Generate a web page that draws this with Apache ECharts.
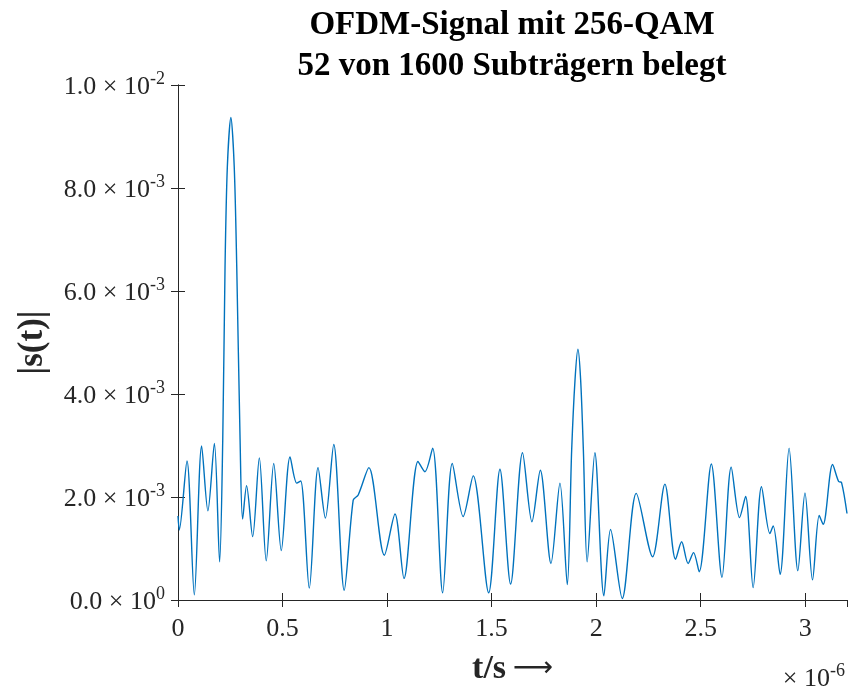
<!DOCTYPE html>
<html>
<head>
<meta charset="utf-8">
<script src="https://cdn.jsdelivr.net/npm/echarts@6/dist/echarts.min.js"></script>
<style>
  html, body { margin: 0; padding: 0; background: #fff; }
  #chart { width: 849px; height: 691px; }
</style>
</head>
<body>
<div id="chart"></div>
<script>
// time in units of 1e-6 s, |s(t)| in units of 1e-3
const tMicro = [
  0, 0.006, 0.043, 0.078, 0.113, 0.143, 0.174, 0.199, 0.214, 0.225, 0.236, 0.253, 0.269, 0.281, 0.297,
  0.309, 0.328, 0.357, 0.389, 0.422, 0.458, 0.494, 0.536, 0.568, 0.587, 0.628, 0.670, 0.705, 0.745,
  0.795, 0.838, 0.862, 0.913, 0.987, 1.038, 1.081, 1.148, 1.181, 1.218, 1.266, 1.312, 1.364, 1.412,
  1.486, 1.540, 1.591, 1.648, 1.693, 1.733, 1.784, 1.827, 1.862, 1.883, 1.899, 1.913, 1.926, 1.939,
  1.957, 1.994, 2.037, 2.069, 2.125, 2.192, 2.270, 2.329, 2.380, 2.409, 2.440, 2.466, 2.493, 2.551,
  2.602, 2.646, 2.686, 2.715, 2.751, 2.791, 2.831, 2.847, 2.880, 2.923, 2.965, 2.999, 3.035, 3.067,
  3.086, 3.131, 3.160, 3.174, 3.2
];
const sMilli = [
  1.63, 1.36, 2.70, 0.10, 2.99, 1.73, 3.04, 0.74, 3.1, 6.47, 8.41, 9.37, 8.41, 6.47, 3.1,
  1.57, 2.22, 1.23, 2.76, 0.76, 2.65, 0.96, 2.78, 2.27, 2.31, 0.23, 2.57, 1.59, 3.02,
  0.19, 1.94, 2.04, 2.57, 0.87, 1.67, 0.42, 2.69, 2.49, 2.95, 0.14, 2.65, 1.62, 2.41,
  0.14, 2.54, 0.31, 2.86, 1.52, 2.52, 0.71, 2.27, 0.30, 2.91, 4.27, 4.87, 4.27, 2.91,
  0.74, 2.86, 0.08, 1.37, 0.03, 2.07, 0.84, 2.25, 0.79, 1.13, 0.71, 0.92, 0.55, 2.64,
  0.44, 2.58, 1.60, 2.01, 0.24, 2.20, 1.29, 1.44, 0.50, 2.95, 0.57, 2.08, 0.39, 1.64,
  1.47, 2.63, 2.30, 2.28, 1.68
];
const yTickMantissa = ["0.0", "2.0", "4.0", "6.0", "8.0", "1.0"];
const yTickExponent = ["0", "-3", "-3", "-3", "-3", "-2"];
const xTickLabels = ["0", "0.5", "1", "1.5", "2", "2.5", "3"];

const serif = "Liberation Serif";
const axisColor = "#262626";
const lineColor = "#0072BD";

const chart = echarts.init(document.getElementById("chart"), null, { renderer: "canvas" });

const tickStyle = { inside: true, length: 7, lineStyle: { color: axisColor, width: 1 } };

chart.setOption({
  animation: false,
  title: {
    text: "OFDM-Signal mit 256-QAM\n52 von 1600 Subträgern belegt",
    left: 507,
    textAlign: "center",
    top: 0,
    textStyle: {
      color: "#000",
      fontFamily: serif,
      fontSize: 33,
      fontWeight: "bold",
      lineHeight: 41
    }
  },
  grid: { left: 178, right: 2, top: 85, bottom: 91, outerBoundsMode: "none" },
  xAxis: [
    {
      type: "value",
      min: 0,
      max: 3.2,
      interval: 0.5,
      axisLine: { lineStyle: { color: axisColor } },
      axisTick: tickStyle,
      splitLine: { show: false },
      axisLabel: {
        margin: 16,
        color: axisColor,
        fontFamily: serif,
        fontSize: 26,
        showMaxLabel: false,
        formatter: (v) => {
          const i = Math.round(v / 0.5);
          return Math.abs(v - i * 0.5) < 1e-9 && i < xTickLabels.length ? xTickLabels[i] : "";
        }
      },
      name: "{a|t/s}  {b|⟶}",
      nameLocation: "middle",
      nameGap: 52,
      nameTextStyle: {
        rich: {
          a: { color: axisColor, fontFamily: serif, fontSize: 34, fontWeight: "bold" },
          b: { color: axisColor, fontFamily: "DejaVu Sans", fontSize: 28 }
        }
      }
    },
    {
      type: "value",
      position: "top",
      min: 0,
      max: 3.2,
      interval: 0.5,
      axisLine: { lineStyle: { color: axisColor } },
      axisTick: tickStyle,
      axisLabel: { show: false },
      splitLine: { show: false }
    }
  ],
  yAxis: [
    {
      type: "value",
      min: 0,
      max: 10,
      interval: 2,
      axisLine: { show: true, lineStyle: { color: axisColor } },
      axisTick: { show: true, ...tickStyle },
      splitLine: { show: false },
      axisLabel: {
        margin: 13,
        color: axisColor,
        fontFamily: serif,
        formatter: (v) => {
          const i = Math.round(v / 2);
          return "{m|" + yTickMantissa[i] + " × 10}{e|" + yTickExponent[i] + "}";
        },
        rich: {
          m: { fontFamily: serif, fontSize: 26, color: axisColor, lineHeight: 30, verticalAlign: "bottom" },
          e: { fontFamily: serif, fontSize: 18, color: axisColor, lineHeight: 30, verticalAlign: "top" }
        }
      },
      name: "|s(t)|",
      nameLocation: "middle",
      nameGap: 128,
      nameRotate: 90,
      nameTextStyle: { color: axisColor, fontFamily: serif, fontSize: 35, fontWeight: "bold" }
    },
    {
      type: "value",
      position: "right",
      min: 0,
      max: 10,
      interval: 2,
      axisLine: { show: true, lineStyle: { color: axisColor } },
      axisTick: { show: true, ...tickStyle },
      axisLabel: { show: false },
      splitLine: { show: false }
    }
  ],
  graphic: [
    {
      type: "text",
      right: 4,
      top: 662,
      style: {
        text: "{m|× 10}{e|-6}",
        rich: {
          m: { fontFamily: serif, fontSize: 26, fill: axisColor, lineHeight: 30, verticalAlign: "bottom" },
          e: { fontFamily: serif, fontSize: 18, fill: axisColor, lineHeight: 30, verticalAlign: "top" }
        }
      }
    }
  ],
  series: [
    {
      type: "line",
      data: tMicro.map((t, i) => [t, sMilli[i]]),
      showSymbol: false,
      smooth: 0.3,
      lineStyle: { color: lineColor, width: 1.4 },
      clip: true
    }
  ]
});
</script>
</body>
</html>
